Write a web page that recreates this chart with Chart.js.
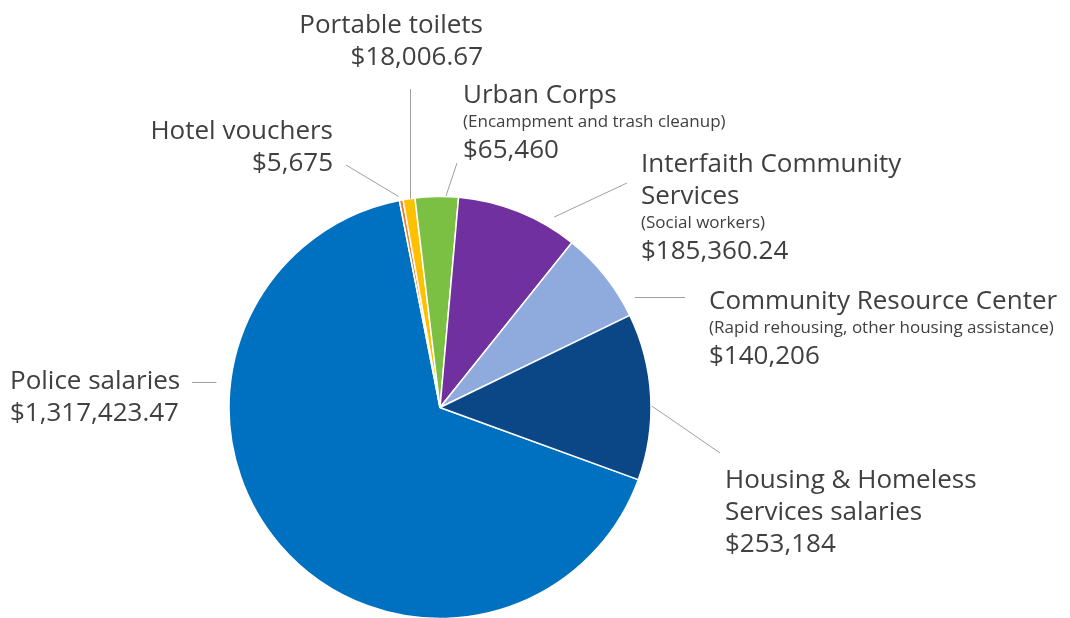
<!DOCTYPE html>
<html>
<head>
<meta charset="utf-8">
<script src="https://cdn.jsdelivr.net/npm/chart.js@4/dist/chart.umd.min.js"></script>
<style>
  html, body { margin: 0; padding: 0; background: #ffffff; overflow: hidden; }
  #wrap { position: relative; width: 1070px; height: 618px; }
</style>
</head>
<body>
<div id="wrap"><canvas id="budget"></canvas></div>
<script>
// Spending categories, in drawing order (clockwise from the police slice)
const categories = [
  'Police salaries',
  'Hotel vouchers',
  'Portable toilets',
  'Urban Corps',
  'Interfaith Community Services',
  'Community Resource Center',
  'Housing & Homeless Services salaries'
];

// Dollar amounts per category
const amounts = [1317423.47, 5675, 18006.67, 65460, 185360.24, 140206, 253184];

// Category names as they wrap in the callouts
const nameLines = [
  ['Police salaries'],
  ['Hotel vouchers'],
  ['Portable toilets'],
  ['Urban Corps'],
  ['Interfaith Community', 'Services'],
  ['Community Resource Center'],
  ['Housing & Homeless', 'Services salaries']
];

// Small explanatory notes under some names
const notes = [
  '',
  '',
  '',
  '(Encampment and trash cleanup)',
  '(Social workers)',
  '(Rapid rehousing, other housing assistance)',
  ''
];

const sliceColors = ['#0070C0', '#ED7D31', '#FFC000', '#7BC043', '#7030A0', '#8FAADC', '#0B4787'];

// Callout placement: text anchor, first baseline, alignment, and the leader line
// (t = position inside the slice, dr = gap beyond the rim, end = label-side end)
const calloutLayout = [
  { x: 10,  y: 389, align: 'left',  t: 0.697, dr: 14, end: { x: 192 }, dir: 'h' },
  { x: 333, y: 139, align: 'right', t: 0.0,   dr: 4,  end: { x: 346, y: 165 } },
  { x: 483, y: 33,  align: 'right', t: 0.58,  dr: 0,  end: { y: 89 }, dir: 'v' },
  { x: 463, y: 103, align: 'left',  t: 0.71,  dr: 0.5, end: { x: 457, y: 163 } },
  { x: 641, y: 172, align: 'left',  t: 0.77,  dr: 11, end: { x: 627, y: 183 } },
  { x: 709, y: 309, align: 'left',  t: 0.86,  dr: 12.7, end: { x: 685 }, dir: 'h' },
  { x: 725, y: 488, align: 'left',  t: 0.556, dr: 1,  end: { x: 720, y: 453 } }
];

const FONT_FAMILY = '"Open Sans", "Noto Sans", sans-serif';
const BIG = 26, SMALL = 17;
const TEXT_COLOR = '#404040';
const LEADER_COLOR = '#A0A0A0';

function formatDollars(v) {
  const hasCents = Math.round(v * 100) % 100 !== 0;
  return '$' + v.toLocaleString('en-US', {
    minimumFractionDigits: hasCents ? 2 : 0,
    maximumFractionDigits: hasCents ? 2 : 0
  });
}

const calloutPlugin = {
  id: 'callouts',
  afterDatasetsDraw(chart) {
    const ctx = chart.ctx;
    const arcs = chart.getDatasetMeta(0).data;
    arcs.forEach((arc, i) => {
      const L = calloutLayout[i];
      const p = arc.getProps(['x', 'y', 'startAngle', 'endAngle', 'outerRadius'], true);
      const a = p.startAngle + L.t * (p.endAngle - p.startAngle);
      const r = p.outerRadius + L.dr;
      const px = p.x + Math.cos(a) * r;
      const py = p.y + Math.sin(a) * r;
      let ex, ey;
      if (L.dir === 'h') { ex = L.end.x; ey = py; }
      else if (L.dir === 'v') { ex = px; ey = L.end.y; }
      else { ex = L.end.x; ey = L.end.y; }

      ctx.save();
      ctx.strokeStyle = LEADER_COLOR;
      ctx.lineWidth = 1;
      ctx.beginPath();
      if (L.dir === 'h') {
        const yy = Math.round(py) + 0.5;
        ctx.moveTo(px, yy); ctx.lineTo(ex, yy);
      } else if (L.dir === 'v') {
        const xx = Math.round(px) + 0.5;
        ctx.moveTo(xx, py); ctx.lineTo(xx, ey);
      } else {
        ctx.moveTo(px, py); ctx.lineTo(ex, ey);
      }
      ctx.stroke();

      // text block: name lines, optional note, value
      const lines = nameLines[i].map(s => ({ text: s, size: BIG }));
      if (notes[i]) lines.push({ text: notes[i], size: SMALL });
      lines.push({ text: formatDollars(amounts[i]), size: BIG });

      ctx.fillStyle = TEXT_COLOR;
      ctx.textAlign = L.align;
      ctx.textBaseline = 'alphabetic';
      let y = L.y;
      lines.forEach((ln, k) => {
        if (k > 0) {
          const prev = lines[k - 1];
          if (prev.size === BIG && ln.size === BIG) y += 32;
          else if (prev.size === BIG && ln.size === SMALL) y += 24;
          else y += 31;
        }
        ctx.font = ln.size + 'px ' + FONT_FAMILY;
        ctx.fillText(ln.text, L.x, y);
      });
      ctx.restore();
    });
  }
};

new Chart(document.getElementById('budget'), {
  type: 'pie',
  data: {
    labels: categories,
    datasets: [{
      data: amounts,
      backgroundColor: sliceColors,
      borderColor: '#ffffff',
      borderWidth: 1.5
    }]
  },
  options: {
    responsive: true,
    maintainAspectRatio: false,
    animation: false,
    events: [],
    rotation: 110,
    radius: 211,
    layout: { padding: { left: 229, right: 419, top: 197, bottom: -1 } },
    plugins: {
      legend: { display: false },
      tooltip: { enabled: false }
    }
  },
  plugins: [calloutPlugin]
});
</script>
</body>
</html>
